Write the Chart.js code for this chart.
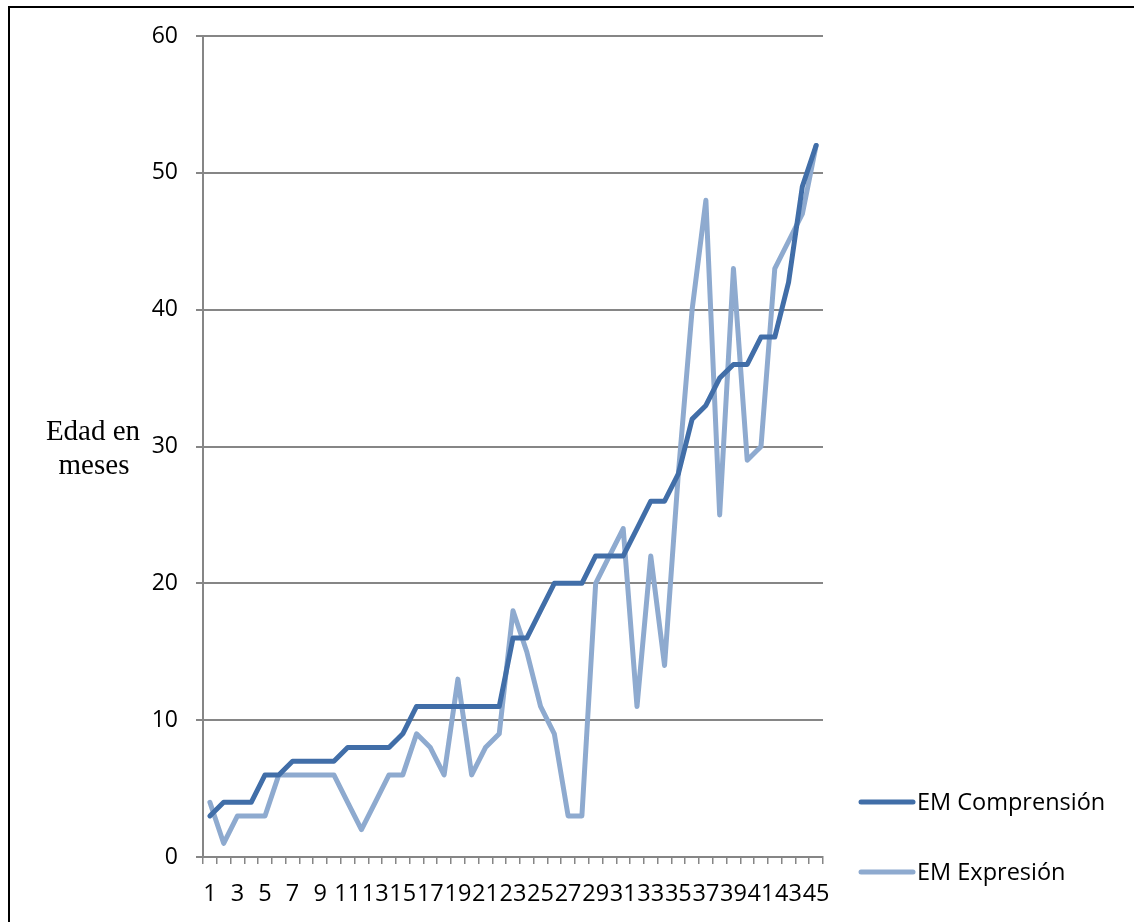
<!DOCTYPE html>
<html>
<head>
<meta charset="utf-8">
<script src="https://cdn.jsdelivr.net/npm/chart.js@4/dist/chart.umd.min.js"></script>
<style>
  body { margin: 0; background: #fff; }
  canvas { display: block; }
</style>
</head>
<body>
<canvas id="grafico" width="1134" height="922"></canvas>
<script>
// Datos
var categorias = [];
for (var i = 1; i <= 45; i++) categorias.push(String(i));

var emComprension = [3,4,4,4,6,6,7,7,7,7,8,8,8,8,9,11,11,11,11,11,11,11,16,16,18,20,20,20,22,22,22,24,26,26,28,32,33,35,36,36,38,38,42,49,52];
var emExpresion = [4,1,3,3,3,6,6,6,6,6,4,2,4,6,6,9,8,6,13,6,8,9,18,15,11,9,3,3,20,22,24,11,22,14,28,40,48,25,43,29,30,43,45,47,52];

var nombresSeries = ["EM Comprensión", "EM Expresión"];
var tituloEjeY = ["Edad en", "meses"];

var colorOscuro = "#416ea8";
var colorClaro = "#8eaacf";
var gris = "#868686";
var fuente = "'Open Sans', 'Noto Sans', sans-serif";

// Borde, titulo del eje Y y leyenda
var extras = {
  id: "extras",
  afterDraw: function(chart) {
    var ctx = chart.ctx;
    ctx.save();
    // marco (solo izquierda y arriba visibles)
    ctx.strokeStyle = "#000";
    ctx.lineWidth = 2;
    ctx.beginPath();
    ctx.moveTo(9, 922);
    ctx.lineTo(9, 7);
    ctx.lineTo(1134, 7);
    ctx.stroke();

    // titulo eje Y
    ctx.fillStyle = "#000";
    ctx.font = "29px 'Liberation Serif', 'DejaVu Serif', serif";
    ctx.textAlign = "center";
    ctx.textBaseline = "alphabetic";
    ctx.fillText(tituloEjeY[0], 93, 440);
    ctx.fillText(tituloEjeY[1], 94, 474);

    // leyenda
    var ys = [802, 872];
    chart.data.datasets.forEach(function(ds, k) {
      ctx.strokeStyle = ds.borderColor;
      ctx.lineWidth = 5;
      ctx.lineCap = "round";
      ctx.beginPath();
      ctx.moveTo(861, ys[k]);
      ctx.lineTo(913, ys[k]);
      ctx.stroke();
      ctx.fillStyle = "#000";
      ctx.font = "23.5px " + fuente;
      ctx.textAlign = "left";
      ctx.textBaseline = "middle";
      ctx.fillText(ds.label, 917, ys[k] + 1);
    });
    ctx.restore();
  }
};

new Chart(document.getElementById("grafico"), {
  type: "line",
  data: {
    labels: categorias,
    datasets: [{
      label: nombresSeries[0],
      data: emComprension,
      borderColor: colorOscuro,
      backgroundColor: colorOscuro,
      borderWidth: 5,
      pointRadius: 0,
      borderJoinStyle: "round",
      borderCapStyle: "round",
      tension: 0
    }, {
      label: nombresSeries[1],
      data: emExpresion,
      borderColor: colorClaro,
      backgroundColor: colorClaro,
      borderWidth: 5,
      pointRadius: 0,
      borderJoinStyle: "round",
      borderCapStyle: "round",
      tension: 0
    }]
  },
  options: {
    responsive: false,
    devicePixelRatio: 1,
    animation: false,
    layout: { padding: { left: 0, top: 36, right: 311, bottom: 0 } },
    plugins: {
      legend: { display: false },
      tooltip: { enabled: false }
    },
    scales: {
      x: {
        offset: true,
        grid: {
          offset: true,
          drawOnChartArea: false,
          drawTicks: true,
          tickLength: 7,
          color: gris,
          lineWidth: 1.5
        },
        border: { display: true, color: gris, width: 2 },
        ticks: {
          autoSkip: false,
          maxRotation: 0,
          minRotation: 0,
          padding: 16,
          color: "#000",
          font: { family: fuente, size: 23.5 },
          callback: function(v, idx) { return idx % 2 === 0 ? categorias[idx] : ""; }
        },
        afterFit: function(s) { s.height = 65; }
      },
      y: {
        min: 0,
        max: 60,
        grid: {
          color: gris,
          lineWidth: 2,
          tickLength: 7
        },
        border: { display: true, color: gris, width: 2 },
        ticks: {
          stepSize: 10,
          padding: 18,
          color: "#000",
          font: { family: fuente, size: 23 }
        },
        afterFit: function(s) { s.width = 203; }
      }
    }
  },
  plugins: [extras]
});
</script>
</body>
</html>
